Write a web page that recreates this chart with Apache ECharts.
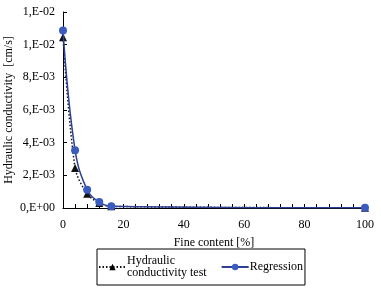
<!DOCTYPE html>
<html>
<head>
<meta charset="utf-8">
<script src="https://cdn.jsdelivr.net/npm/echarts@6/dist/echarts.min.js"></script>
<style>
html, body { margin: 0; padding: 0; background: #fff; }
#chart { width: 381px; height: 289px; }
</style>
</head>
<body>
<div id="chart"></div>
<script>
// fine content [%]
const testX = [0, 4, 8, 12, 16, 100]
const testK = [0.01045, 0.00245, 0.00087, 0.00030, 0.00010, 0.00001]
const regX = [0, 4, 8, 12, 16, 100]
const regK = [0.01086, 0.00354, 0.00112, 0.00036, 0.00011, 0.00001]
const yTicks = [0, 0.002, 0.004, 0.006, 0.008, 0.01, 0.012]
const yTickLabels = ['0,E+00', '2,E-03', '4,E-03', '6,E-03', '8,E-03', '1,E-02', '1,E-02']

const font = 'Liberation Serif'
const txt = { fontFamily: font, fontSize: 12, color: '#000' }

const pairs = (xs, ys) => xs.map((x, i) => [x, ys[i]])

const chart = echarts.init(document.getElementById('chart'))
chart.setOption({
    backgroundColor: '#fff',
    animation: false,
    grid: { left: 63, right: 16, top: 12, bottom: 81, containLabel: false, outerBoundsMode: 'none' },
    xAxis: {
        type: 'value',
        min: 0,
        max: 100,
        interval: 20,
        name: 'Fine content [%]',
        nameLocation: 'middle',
        nameGap: 29,
        nameMoveOverlap: false,
        nameTextStyle: txt,
        axisLine: { lineStyle: { color: '#000', width: 1 } },
        axisTick: { inside: true, length: 4, lineStyle: { color: '#000' } },
        minorTick: { show: true, splitNumber: 5, length: 4, lineStyle: { color: '#000' } },
        axisLabel: Object.assign({ margin: 11 }, txt),
        splitLine: { show: false }
    },
    yAxis: {
        type: 'value',
        min: 0,
        max: 0.012,
        interval: 0.002,
        name: 'Hydraulic conductivity  [cm/s]',
        nameLocation: 'middle',
        nameGap: 48,
        nameMoveOverlap: false,
        nameTextStyle: txt,
        axisLine: { show: true, lineStyle: { color: '#000', width: 1 } },
        axisTick: { show: true, inside: true, length: 4, lineStyle: { color: '#000' } },
        axisLabel: Object.assign({
            margin: 8,
            formatter: (v) => {
                const i = yTicks.findIndex(t => Math.abs(t - v) < 1e-9)
                return i >= 0 ? yTickLabels[i] : ''
            }
        }, txt),
        splitLine: { show: false }
    },
    legend: {
        left: 97,
        top: 249,
        padding: [6, 2, 6, 1],
        itemGap: 14,
        itemWidth: 27,
        itemHeight: 8,
        borderColor: '#000',
        borderWidth: 1,
        borderRadius: 0,
        textStyle: Object.assign({ padding: [0, 0, 0, -4], lineHeight: 12 }, txt),
        data: [
            { name: 'Hydraulic\nconductivity test', itemStyle: { color: '#000' } },
            { name: 'Regression' }
        ]
    },
    series: [
        {
            name: 'Hydraulic\nconductivity test',
            type: 'line',
            data: pairs(testX, testK),
            symbol: 'triangle',
            symbolSize: 8,
            showSymbol: true,
            itemStyle: { color: '#111' },
            lineStyle: { color: '#111', type: [1.5, 2], width: 1.5 },
            smooth: 0.3,
            z: 2
        },
        {
            name: 'Regression',
            type: 'line',
            data: pairs(regX, regK),
            symbol: 'circle',
            symbolSize: 8,
            itemStyle: { color: '#3a5cc0' },
            lineStyle: { color: '#2f3f94', width: 1.5 },
            smooth: 0.4,
            z: 3
        }
    ]
})
</script>
</body>
</html>
